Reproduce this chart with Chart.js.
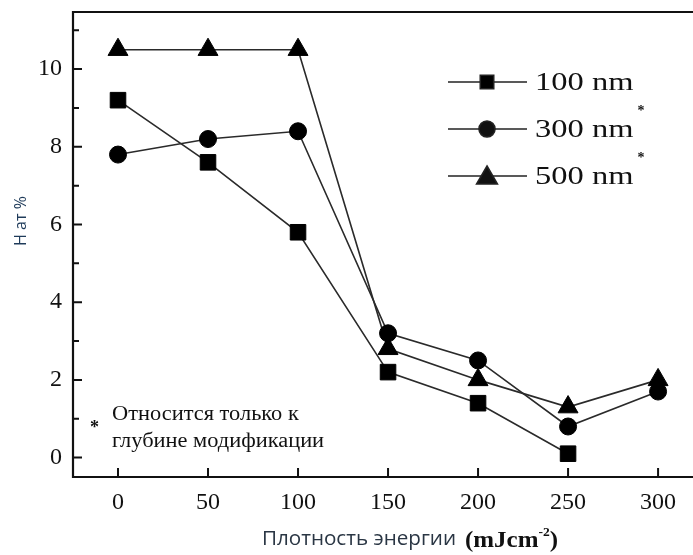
<!DOCTYPE html>
<html>
<head>
<meta charset="utf-8">
<script src="https://cdn.jsdelivr.net/npm/chart.js@4.4.1/dist/chart.umd.min.js"></script>
<style>
  html, body { margin: 0; padding: 0; background: #ffffff; }
  #wrap { width: 693px; height: 555px; position: relative; }
</style>
</head>
<body>
<div id="wrap"><canvas id="c" width="693" height="555"></canvas></div>
<script>
// Energy density, mJ/cm^2
const energy = [0, 50, 100, 150, 200, 250, 300];
// Hydrogen content, at.% for three depths
const h100 = [9.2, 7.6, 5.8, 2.2, 1.4, 0.1, null];
const h300 = [7.8, 8.2, 8.4, 3.2, 2.5, 0.8, 1.7];
const h500 = [10.5, 10.5, 10.5, 2.8, 2.0, 1.3, 2.0];
const seriesNames = ['100 nm', '300 nm', '500 nm'];
const xTicks = [0, 50, 100, 150, 200, 250, 300];
const yTicks = [0, 2, 4, 6, 8, 10];
const yMinorTicks = [1, 3, 5, 7, 9, 11];

const SERIF = '"Liberation Serif", "Times New Roman", serif';
const SANS = '"Open Sans", "Noto Sans", sans-serif';

function pts(arr) {
  return energy.map((x, i) => ({ x: x, y: arr[i] })).filter(p => p.y !== null);
}

const markerStyles = ['rect', 'circle', 'triangle'];
const markerRadius = [11, 8.5, 11.5];
const legendRadius = [9.5, 8, 12];

// text drawn with a horizontal stretch factor; returns the drawn width
function wideText(ctx, text, x, y, sx) {
  ctx.save();
  ctx.translate(x, y);
  ctx.scale(sx, 1);
  ctx.fillText(text, 0, 0);
  ctx.restore();
  return ctx.measureText(text).width * sx;
}

const frame = {
  id: 'frame',
  afterDraw(chart) {
    const { ctx, chartArea: a, scales } = chart;
    const xs = scales.x, ys = scales.y;
    ctx.save();
    ctx.strokeStyle = '#111';
    ctx.lineWidth = 2.2;
    ctx.beginPath();
    ctx.moveTo(a.right + 2, a.top);
    ctx.lineTo(a.left, a.top);
    ctx.lineTo(a.left, a.bottom);
    ctx.lineTo(a.right + 2, a.bottom);
    ctx.stroke();
    // inward ticks
    ctx.lineWidth = 2;
    ctx.beginPath();
    yTicks.forEach(v => { const y = ys.getPixelForValue(v); ctx.moveTo(a.left, y); ctx.lineTo(a.left + 9, y); });
    yMinorTicks.forEach(v => { const y = ys.getPixelForValue(v); ctx.moveTo(a.left, y); ctx.lineTo(a.left + 6, y); });
    xTicks.forEach(v => { const x = xs.getPixelForValue(v); ctx.moveTo(x, a.bottom); ctx.lineTo(x, a.bottom - 9); });
    ctx.stroke();

    // legend
    const rows = [82, 129, 176];
    rows.forEach((ry, i) => {
      ctx.strokeStyle = '#222';
      ctx.lineWidth = 1.6;
      ctx.beginPath();
      ctx.moveTo(448, ry); ctx.lineTo(527, ry);
      ctx.stroke();
      Chart.helpers.drawPoint(ctx, { pointStyle: markerStyles[i], radius: legendRadius[i], borderWidth: 1 }, 487, ry + (i === 2 ? 2 : 0));
      ctx.fillStyle = '#111';
      ctx.font = '25px ' + SERIF;
      ctx.textBaseline = 'middle';
      ctx.textAlign = 'left';
      const w = wideText(ctx, seriesNames[i], 535, ry + 1, 1.3);
      if (i > 0) {
        ctx.font = 'bold 14px ' + SERIF;
        ctx.fillText('*', 535 + w + 4, ry - 18);
      }
    });

    // footnote
    ctx.fillStyle = '#111';
    ctx.textBaseline = 'middle';
    ctx.font = 'bold 18px ' + SERIF;
    ctx.fillText('*', 90, 428);
    ctx.font = '20px ' + SERIF;
    wideText(ctx, 'Относится только к', 112, 415, 1.12);
    wideText(ctx, 'глубине модификации', 112, 442, 1.12);

    // axis titles
    ctx.save();
    ctx.translate(21, 221);
    ctx.rotate(-Math.PI / 2);
    ctx.textAlign = 'center';
    ctx.fillStyle = '#1f3b5a';
    ctx.font = '16px ' + SANS;
    ctx.fillText('H ат %', 0, 0);
    ctx.restore();

    ctx.textAlign = 'left';
    ctx.textBaseline = 'alphabetic';
    ctx.fillStyle = '#2a3644';
    ctx.font = '20px ' + SANS;
    const t1 = 'Плотность энергии';
    wideText(ctx, t1, 262, 545, 194 / ctx.measureText(t1).width);
    // unit part, bold serif
    ctx.fillStyle = '#111';
    ctx.font = 'bold 24px ' + SERIF;
    const wa = ctx.measureText('(mJcm').width;
    const wp = ctx.measureText(')').width;
    ctx.font = 'bold 13px ' + SERIF;
    const ws = ctx.measureText('-2').width;
    const sx = 93 / (wa + wp + ws);
    let x = 465;
    ctx.font = 'bold 24px ' + SERIF;
    x += wideText(ctx, '(mJcm', x, 547, sx);
    ctx.font = 'bold 13px ' + SERIF;
    x += wideText(ctx, '-2', x, 536, sx);
    ctx.font = 'bold 24px ' + SERIF;
    wideText(ctx, ')', x, 547, sx);
    ctx.restore();
  }
};

const datasets = [h100, h300, h500].map((arr, i) => ({
  label: seriesNames[i],
  data: pts(arr),
  borderColor: '#2a2a2a',
  borderWidth: 1.6,
  backgroundColor: '#000',
  pointBackgroundColor: '#000',
  pointBorderColor: '#000',
  pointBorderWidth: 1,
  pointStyle: markerStyles[i],
  pointRadius: markerRadius[i],
  tension: 0,
  fill: false
}));

new Chart(document.getElementById('c'), {
  type: 'line',
  data: { datasets },
  plugins: [frame],
  options: {
    responsive: false,
    animation: false,
    events: [],
    layout: { autoPadding: false, padding: { top: 12, right: 0, left: 0, bottom: 0 } },
    plugins: { legend: { display: false }, tooltip: { enabled: false } },
    scales: {
      x: {
        type: 'linear',
        min: -25,
        max: 319.4,
        afterBuildTicks: s => { s.ticks = xTicks.map(v => ({ value: v })); },
        afterFit: s => { s.height = 78; s.paddingLeft = 0; s.paddingRight = 0; },
        grid: { display: false, drawTicks: false },
        border: { display: false },
        ticks: { color: '#111', font: { family: SERIF, size: 24 }, padding: 11, maxRotation: 0 }
      },
      y: {
        type: 'linear',
        min: -0.5,
        max: 11.47,
        afterBuildTicks: s => { s.ticks = yTicks.map(v => ({ value: v })); },
        afterFit: s => { s.width = 73; s.paddingTop = 0; s.paddingBottom = 0; },
        grid: { display: false, drawTicks: false },
        border: { display: false },
        ticks: { color: '#111', font: { family: SERIF, size: 24 }, padding: 11 }
      }
    }
  }
});
</script>
</body>
</html>
